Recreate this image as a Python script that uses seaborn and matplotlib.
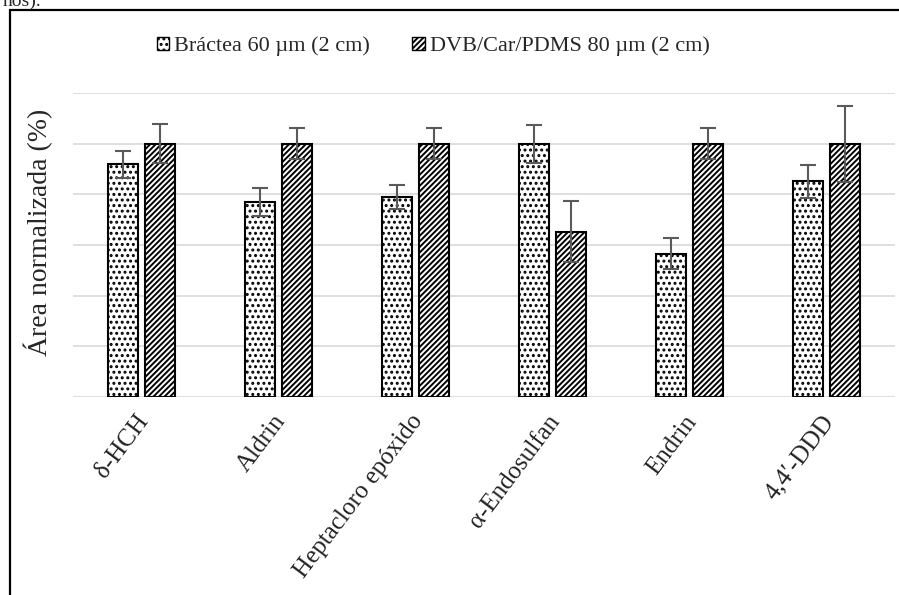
"""
Normalized area per pesticide: Bráctea fiber vs DVB/Car/PDMS fiber.
Grayscale, hatched bars in the style of an Excel report figure.
"""

import matplotlib
matplotlib.use("Agg")
import matplotlib.pyplot as plt
import matplotlib.patches as mpatches
import matplotlib.transforms as mtransforms
import seaborn as sns
import pandas as pd

compounds = ["δ-HCH", "Aldrin", "Heptacloro epóxido", "α-Endosulfan", "Endrin", "4,4′-DDD"]
series_names = ["Bráctea 60 µm (2 cm)", "DVB/Car/PDMS 80 µm (2 cm)"]
bractea = [91.8, 77.0, 79.0, 100.0, 56.6, 85.1]
bractea_err = [5.3, 5.4, 4.6, 7.5, 6.0, 6.6]
dvb = [100.0, 100.0, 100.0, 65.3, 100.0, 100.0]
dvb_err = [7.8, 6.0, 6.0, 12.2, 6.0, 15.0]
y_ticks = [0, 20, 40, 60, 80, 100, 120]

df = pd.DataFrame({
    "compound": compounds * 2,
    "fiber": [series_names[0]] * len(compounds) + [series_names[1]] * len(compounds),
    "area": bractea + dvb,
})

sns.set_theme(style="white")
plt.rcParams["font.family"] = ["Liberation Serif", "DejaVu Serif"]
plt.rcParams["hatch.linewidth"] = 1.4

fig = plt.figure(figsize=(8.99, 5.95), dpi=100)
ax = fig.add_axes([0.0812, 0.3328, 0.9144, 0.5109])

sns.barplot(data=df, x="compound", y="area", hue="fiber", order=compounds,
            hue_order=series_names, width=0.54, gap=0.18, legend=False,
            palette=["white", "white"], edgecolor="black", linewidth=1.5,
            ax=ax)

hatches = ["...", "//////"]
for container, hatch, err in zip(ax.containers, hatches, [bractea_err, dvb_err]):
    xs, ys = [], []
    for bar in container:
        bar.set_hatch(hatch)
        xs.append(bar.get_x() + bar.get_width() / 2)
        ys.append(bar.get_height())
    ax.errorbar(xs, ys, yerr=err, fmt="none", ecolor="#5a5a5a",
                elinewidth=1.5, capsize=6, capthick=1.5, zorder=5)

ax.set_ylim(0, 120)
ax.set_xlim(-0.5, len(compounds) - 0.5)
ax.set_yticks(y_ticks)
ax.set_yticklabels([])
ax.yaxis.grid(True, color="#d9d9d9", linewidth=1.2)
ax.set_axisbelow(True)
for side in ["top", "right", "left", "bottom"]:
    ax.spines[side].set_visible(False)
ax.tick_params(axis="both", length=0)
ax.set_xlabel("")
ax.set_ylabel("Área normalizada (%)", fontsize=20)
ax.yaxis.set_label_coords(-0.024, 0.543)
ax.set_xticks(range(len(compounds)))
ax.set_xticklabels(compounds, rotation=53, ha="right", rotation_mode="anchor",
                   fontsize=18, color="#222222")
ax.tick_params(axis="x", pad=10)
shift = mtransforms.ScaledTranslation(-6 / 100, 0, fig.dpi_scale_trans)
for lbl in ax.get_xticklabels():
    lbl.set_transform(lbl.get_transform() + shift)

handles = [mpatches.Patch(facecolor="white", edgecolor="black", hatch=h, linewidth=1)
           for h in hatches]
fig.legend(handles, series_names, loc="center", bbox_to_anchor=(0.482, 0.922),
           ncol=2, frameon=False, fontsize=16, handlelength=0.55, handleheight=0.55,
           handletextpad=0.25, columnspacing=1.9)

# outer frame of the pasted figure, cut off at the right and bottom
fig.patches.append(mpatches.Rectangle((0.0111, -0.1), 1.2, 1.083, fill=False,
                                      edgecolor="black", linewidth=1.6,
                                      transform=fig.transFigure, figure=fig))
fig.text(0.003, 0.998, "ños).", fontsize=14, va="center", ha="left")

fig.savefig("out.png", dpi=100)
